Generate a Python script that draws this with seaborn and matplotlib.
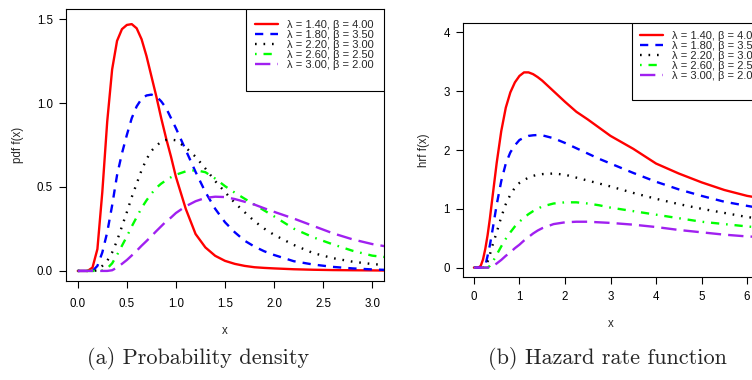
import pandas as pd
import matplotlib
matplotlib.use("Agg")
import matplotlib.pyplot as plt
from matplotlib.patches import Rectangle
import seaborn as sns

# parameter sets (one per curve)
lambdas = [1.40, 1.80, 2.20, 2.60, 3.00]
betas = [4.00, 3.50, 3.00, 2.50, 2.00]

# (a) probability density
x_pdf = [0, 0.1, 0.15, 0.2, 0.25, 0.3, 0.35, 0.4, 0.45, 0.5, 0.55, 0.6, 0.65, 0.7, 0.75,
         0.8, 0.85, 0.9, 0.95, 1.0, 1.1, 1.2, 1.3, 1.4, 1.5, 1.6, 1.7, 1.8, 1.9, 2.0,
         2.2, 2.4, 2.6, 2.8, 3.0, 3.2]
pdf_1 = [0, 0, 0.02, 0.13, 0.47, 0.89, 1.2, 1.37, 1.44, 1.465, 1.47, 1.445, 1.38, 1.28, 1.16,
         1.04, 0.91, 0.79, 0.68, 0.56, 0.37, 0.22, 0.14, 0.09, 0.06, 0.042, 0.03, 0.022, 0.018, 0.015,
         0.01, 0.007, 0.005, 0.004, 0.003, 0.002]
pdf_2 = [0, 0, 0, 0.03, 0.11, 0.23, 0.39, 0.57, 0.70, 0.81, 0.91, 0.98, 1.025, 1.045, 1.05,
         1.04, 1.01, 0.97, 0.91, 0.85, 0.72, 0.59, 0.47, 0.37, 0.29, 0.23, 0.18, 0.145, 0.117, 0.095,
         0.058, 0.038, 0.024, 0.015, 0.009, 0.005]
pdf_3 = [0, 0, 0, 0.003, 0.03, 0.06, 0.11, 0.18, 0.265, 0.35, 0.44, 0.52, 0.6, 0.665, 0.715,
         0.745, 0.77, 0.78, 0.782, 0.778, 0.735, 0.68, 0.61, 0.535, 0.47, 0.405, 0.35, 0.296, 0.252, 0.215,
         0.155, 0.106, 0.076, 0.055, 0.041, 0.032]
pdf_4 = [0, 0, 0, 0, 0.003, 0.015, 0.045, 0.095, 0.15, 0.205, 0.265, 0.32, 0.375, 0.42, 0.46,
         0.495, 0.52, 0.54, 0.558, 0.573, 0.593, 0.6, 0.588, 0.55, 0.505, 0.466, 0.43, 0.395, 0.36, 0.325,
         0.252, 0.2, 0.158, 0.12, 0.091, 0.078]
pdf_5 = [0, 0, 0, 0, 0, 0, 0.004, 0.02, 0.042, 0.065, 0.092, 0.12, 0.15, 0.178, 0.207,
         0.237, 0.266, 0.295, 0.318, 0.345, 0.385, 0.415, 0.435, 0.442, 0.44, 0.428, 0.412, 0.395, 0.373, 0.352,
         0.312, 0.268, 0.224, 0.188, 0.16, 0.14]

# (b) hazard rate function
x_hrf = [0, 0.1, 0.15, 0.2, 0.25, 0.3, 0.35, 0.4, 0.5, 0.6, 0.7, 0.8, 0.9, 1.0, 1.1, 1.2,
         1.3, 1.4, 1.5, 1.75, 2.0, 2.25, 2.5, 2.75, 3.0, 3.5, 4.0, 4.5, 5.0, 5.5, 6.0, 6.3]
hrf_1 = [0, 0, 0.03, 0.14, 0.32, 0.55, 0.83, 1.15, 1.78, 2.32, 2.72, 2.98, 3.15, 3.26, 3.32, 3.32,
         3.29, 3.24, 3.18, 3.0, 2.82, 2.65, 2.52, 2.38, 2.24, 2.02, 1.77, 1.6, 1.45, 1.32, 1.22, 1.18]
hrf_2 = [0, 0, 0, 0, 0.03, 0.2, 0.38, 0.6, 1.07, 1.47, 1.77, 1.96, 2.08, 2.17, 2.21, 2.24,
         2.25, 2.255, 2.25, 2.2, 2.12, 2.03, 1.94, 1.85, 1.77, 1.61, 1.46, 1.33, 1.22, 1.12, 1.05, 1.01]
hrf_3 = [0, 0, 0, 0, 0.01, 0.1, 0.22, 0.36, 0.6, 0.86, 1.08, 1.24, 1.36, 1.44, 1.49, 1.53,
         1.56, 1.58, 1.59, 1.6, 1.58, 1.53, 1.48, 1.43, 1.38, 1.27, 1.17, 1.08, 1.0, 0.93, 0.86, 0.83]
hrf_4 = [0, 0, 0, 0, 0, 0, 0.03, 0.08, 0.22, 0.36, 0.49, 0.6, 0.7, 0.78, 0.85, 0.91,
         0.96, 1.0, 1.04, 1.09, 1.11, 1.11, 1.09, 1.06, 1.02, 0.96, 0.9, 0.84, 0.78, 0.74, 0.7, 0.68]
hrf_5 = [0, 0, 0, 0, 0, 0, 0, 0.015, 0.07, 0.13, 0.2, 0.26, 0.33, 0.39, 0.46, 0.52,
         0.58, 0.63, 0.67, 0.74, 0.77, 0.78, 0.78, 0.77, 0.76, 0.73, 0.69, 0.64, 0.6, 0.56, 0.53, 0.52]

labels = [f"\u03bb = {l:.2f}, \u03b2 = {b:.2f}" for l, b in zip(lambdas, betas)]
colors = ["#FF0000", "#0000FF", "#000000", "#00FF00", "#A020F0"]
dash_styles = ["", (3.5, 3.0), (0.7, 2.9), (0.7, 2.9, 3.5, 2.9), (6.5, 3.0)]


def long_frame(x, series):
    rows = []
    for lab, ys in zip(labels, series):
        for xv, yv in zip(x, ys):
            rows.append({"x": xv, "y": yv, "curve": lab})
    return pd.DataFrame(rows)


sns.set_theme(style="ticks")
plt.rcParams["font.family"] = ["Liberation Sans", "DejaVu Sans"]

fig = plt.figure(figsize=(7.52, 3.80), dpi=100)
W, H = 752, 380
ax1 = fig.add_axes([66 / W, (H - 281) / H, 318 / W, 272 / H])
ax2 = fig.add_axes([463 / W, (H - 277) / H, 295 / W, 254 / H])


def draw_panel(ax, df, xlim, ylim, xticks, yticks, fmt, ylabel, ylab_x, xpad,
               box_x0, box_y0, leg_x, leg_y):
    sns.lineplot(data=df, x="x", y="y", hue="curve", style="curve",
                 hue_order=labels, style_order=labels,
                 palette=dict(zip(labels, colors)),
                 dashes=dict(zip(labels, dash_styles)),
                 linewidth=1.7, sort=False, legend=False, ax=ax)
    ax.set_xlim(*xlim)
    ax.set_ylim(*ylim)
    ax.set_xticks(xticks)
    ax.set_yticks(yticks)
    ax.set_xticklabels([fmt.format(v) for v in xticks])
    ax.set_yticklabels([fmt.format(v) for v in yticks])
    ax.tick_params(axis="both", direction="out", length=5, width=0.8,
                   colors="black", labelsize=8.3)
    ax.tick_params(axis="x", pad=xpad)
    ax.tick_params(axis="y", pad=4.5)
    for sp in ax.spines.values():
        sp.set_color("black")
        sp.set_linewidth(0.8)
        sp.set_visible(True)
    ax.set_xlabel("x", fontsize=8.3, va="center")
    ax.xaxis.set_label_coords(0.5, -0.184)
    ax.set_ylabel(ylabel, fontsize=8.3, va="center")
    ax.yaxis.set_label_coords(ylab_x, 0.5)

    # legend box (taller than its content, as in the original)
    ax.add_patch(Rectangle((box_x0, box_y0), 1.0 - box_x0, 1.0 - box_y0,
                           transform=ax.transAxes, facecolor="white",
                           edgecolor="black", linewidth=0.8, zorder=5))
    leg = ax.legend(ax.lines[:5], labels, loc="upper left",
                    bbox_to_anchor=(leg_x, leg_y), frameon=False,
                    fontsize=8, handlelength=2.1, handletextpad=0.8,
                    labelspacing=0.0, borderpad=0, borderaxespad=0)
    leg.set_zorder(6)


draw_panel(ax1, long_frame(x_pdf, [pdf_1, pdf_2, pdf_3, pdf_4, pdf_5]),
           (-0.12, 3.12), (-0.06, 1.56), [0, 0.5, 1.0, 1.5, 2.0, 2.5, 3.0],
           [0, 0.5, 1.0, 1.5], "{:.1f}", "pdf f(x)", -0.151, 7.2,
           0.566, 0.6985, 0.594, 0.961)
draw_panel(ax2, long_frame(x_hrf, [hrf_1, hrf_2, hrf_3, hrf_4, hrf_5]),
           (-0.24, 6.24), (-0.16, 4.16), [0, 1, 2, 3, 4, 5, 6],
           [0, 1, 2, 3, 4], "{:.0f}", "hrf f(x)", -0.132, 5.0,
           0.572, 0.697, 0.60, 0.968)

# sub-figure captions
fig.text(198 / W, (H - 358) / H, "(a) Probability density", family="cmr10",
         fontsize=16, ha="center", va="center")
fig.text(607 / W, (H - 358) / H, "(b) Hazard rate function", family="cmr10",
         fontsize=16, ha="center", va="center")

fig.savefig("out.png", dpi=100)
